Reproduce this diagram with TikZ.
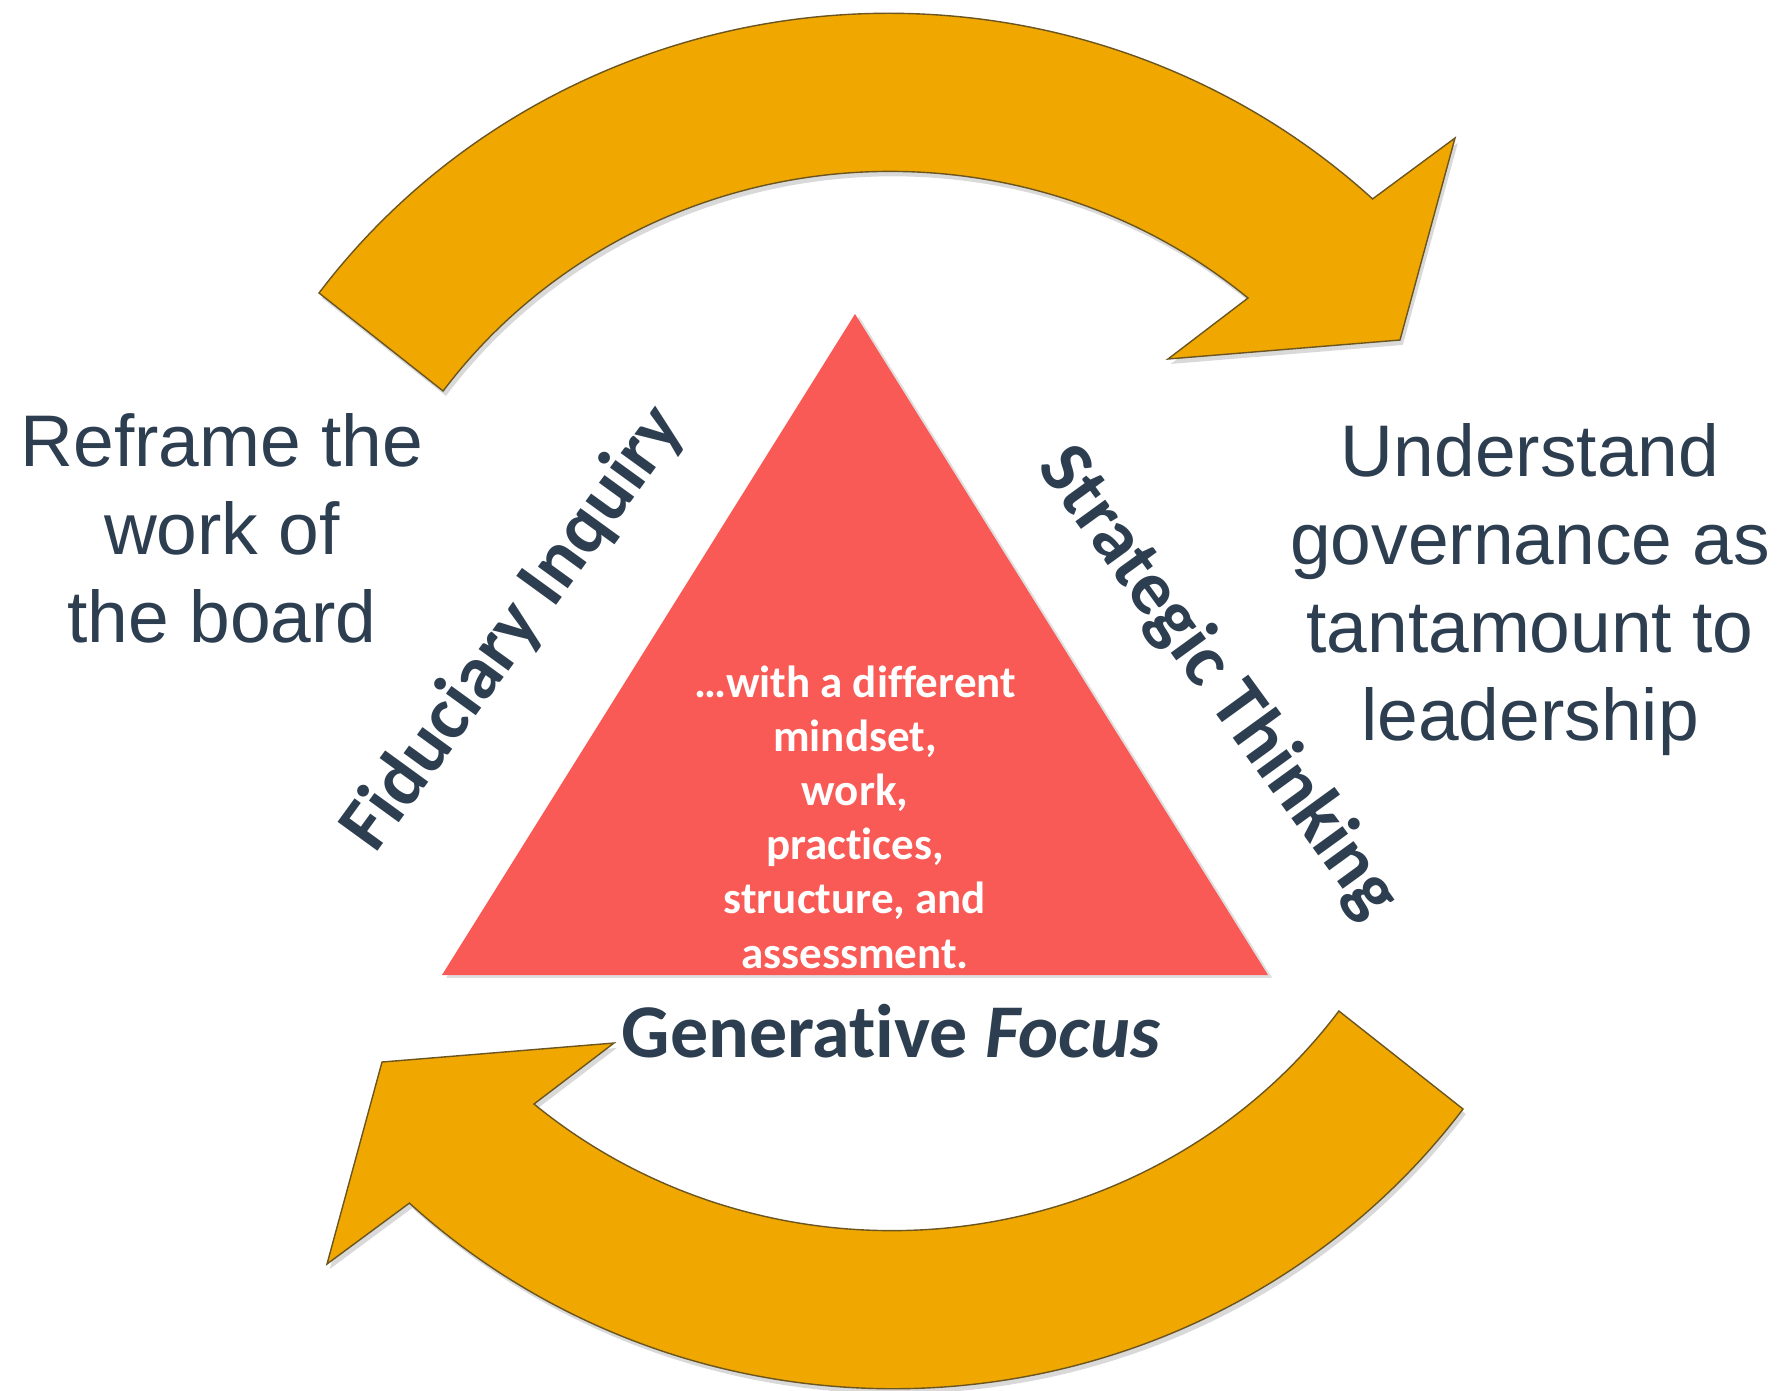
\documentclass[tikz,border=0pt]{standalone}
\usepackage{fontspec}
\setmainfont{Liberation Sans}
\newfontfamily\calibri[Ligatures=NoCommon]{Carlito}
\usetikzlibrary{shadows}
\definecolor{slate}{HTML}{2C3E50}
\definecolor{gold}{HTML}{F0A800}
\definecolor{goldedge}{HTML}{6B5520}
\definecolor{coral}{HTML}{F95A55}
\tikzset{
	turnarrow/.style={fill=gold, draw=goldedge, line width=0.4pt, drop shadow={shadow xshift=0.8pt, shadow yshift=-1.4pt, opacity=0.3}},
	goal/.style={text=slate, align=center, anchor=base, font=\fontsize{20.8}{25}\selectfont},
	mode/.style={text=slate, font=\calibri\bfseries\fontsize{21.6}{26}\selectfont}
}
\begin{document}
\begin{tikzpicture}[x=0.01cm, y=-0.01cm]
	\useasboundingbox (0,0) rectangle (1785,1390);

	\foreach \r in {0,180}{
		\begin{scope}[rotate around={\r:(891,701)}]
			\draw[turnarrow] (319,293) arc[start angle=-143.6, end angle=-46.9, x radius=708, y radius=688]
				-- (1455,138) -- (1400,340) -- (1168,359) -- (1248,298)
				arc[start angle=-49.6, end angle=-144.1, x radius=552, y radius=531] -- cycle;
		\end{scope}
	}

	\coordinate (apex) at (855,314);
	\coordinate (right) at (1268,975);
	\coordinate (left) at (442,975);
	\fill[coral, drop shadow={shadow xshift=1.2pt, shadow yshift=-0.8pt, opacity=0.25}] (apex) -- (right) -- (left) -- cycle;

	\node[text=white, align=center, anchor=base, font=\calibri\bfseries\fontsize{12.8}{15.4}\selectfont] (mindset) at (855,968)
		{…with a different\\mindset,\\work,\\practices,\\structure, and\\assessment.};

	\node[goal] (reframe) at (222,642) {Reframe the\\work of\\the board};
	\node[goal] (understand) at (1530,740) {Understand\\governance as\\tantamount to\\leadership};

	\node[mode, rotate=54] (fiduciary) at (514,629) {Fiduciary Inquiry};
	\node[mode, rotate=-54] (strategic) at (1218,683) {Strategic Thinking};
	\node[mode, anchor=base] (generative) at (891,1057) {Generative \textit{Focus}};
\end{tikzpicture}
\end{document}
